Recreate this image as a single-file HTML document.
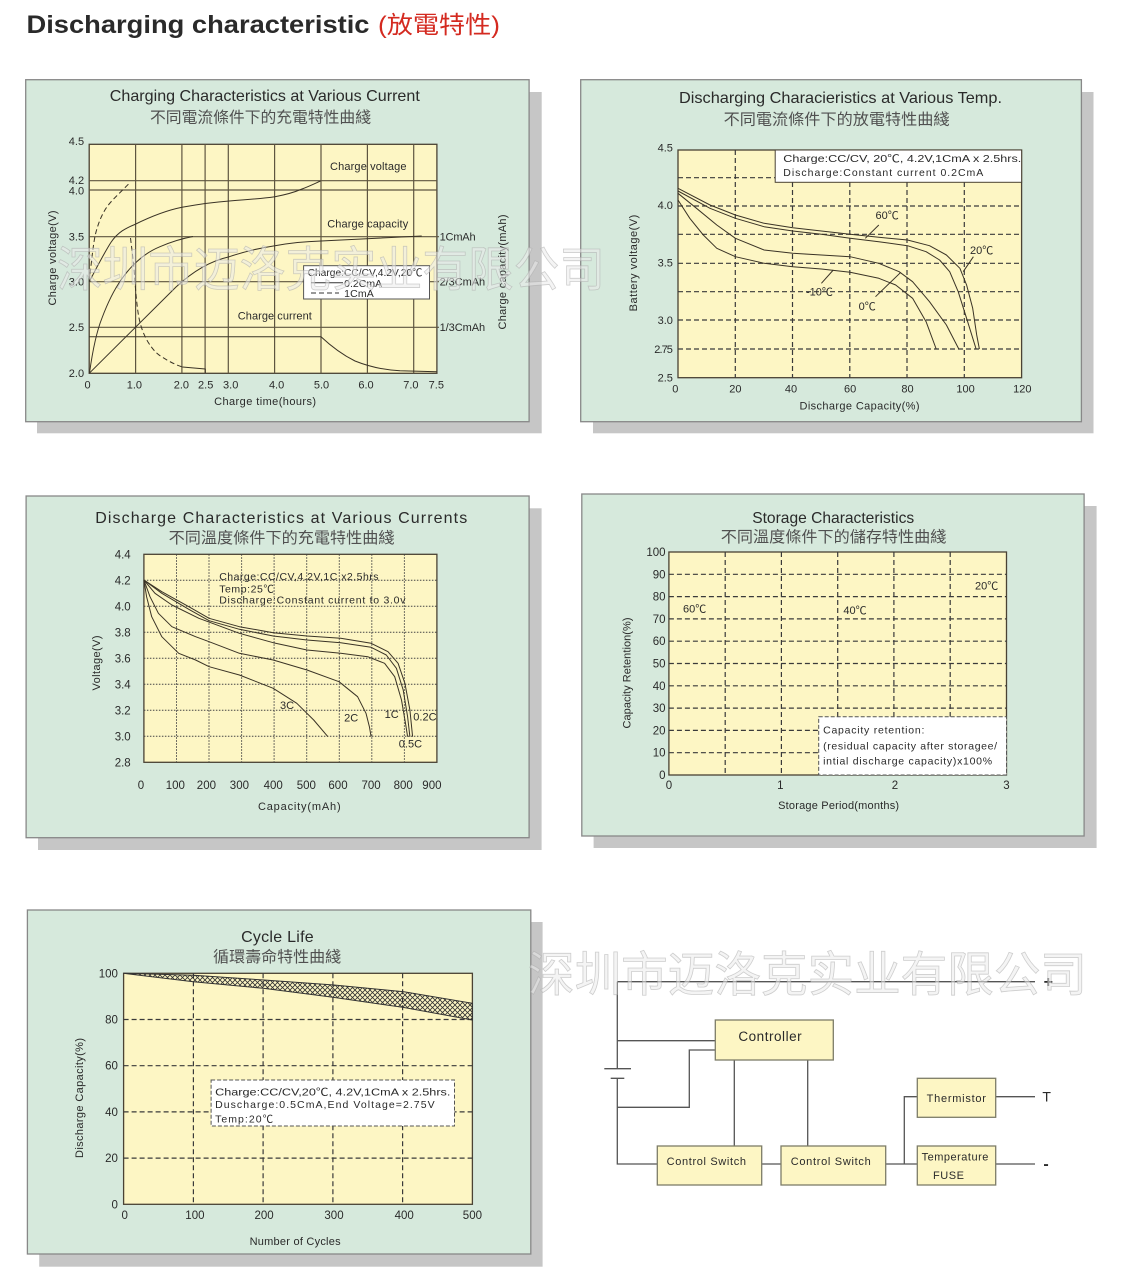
<!DOCTYPE html>
<html><head><meta charset="utf-8">
<style>
html,body{margin:0;padding:0;background:#fff;}
svg{display:block;}
text{font-family:"Liberation Sans","Noto Sans CJK TC",sans-serif;fill:#2a2a2a;}
.t{font-size:11px;}
.cn{fill:#505050;font-family:"Liberation Sans","Noto Sans CJK TC",sans-serif;}
.cv{fill:none;stroke:#3a3326;stroke-width:1;stroke-linejoin:round;}
.wm{font-family:"Liberation Sans","Noto Sans CJK SC",sans-serif;fill:rgba(235,235,235,0.55);stroke:rgba(170,170,170,0.55);stroke-width:0.8;}
</style></head><body>
<svg width="1138" height="1275" viewBox="0 0 1138 1275" xmlns="http://www.w3.org/2000/svg">
<defs>
<pattern id="hatch" width="5" height="5" patternUnits="userSpaceOnUse"><path d="M-1,-1 L6,6 M6,-1 L-1,6" stroke="#333" stroke-width="0.8"/></pattern>
</defs>

<!-- Header -->
<text x="26.5" y="33" font-size="25" font-weight="bold" textLength="343" lengthAdjust="spacingAndGlyphs" fill="#1a1a1a">Discharging characteristic</text>
<text x="378" y="33" font-size="24" textLength="122" lengthAdjust="spacingAndGlyphs" fill="#d42a20" style="fill:#d42a20">(放電特性)</text>

<!-- ================= PANEL 1 ================= -->
<rect x="37" y="92" width="504.7" height="341.3" fill="#c6c6c6"/>
<rect x="25.7" y="79.7" width="503.4" height="342" fill="#d6e9dc" stroke="#888" stroke-width="1.3"/>
<text x="264.8" y="101" font-size="16" text-anchor="middle" textLength="310" lengthAdjust="spacingAndGlyphs">Charging Characteristics at Various Current</text>
<text class="cn" x="260.5" y="122.5" font-size="15.5" text-anchor="middle" textLength="221" lengthAdjust="spacingAndGlyphs">不同電流條件下的充電特性曲綫</text>
<rect x="89.2" y="144.3" width="347.7" height="229" fill="#fdf6c4" stroke="#4a4234" stroke-width="1.3"/>
<path d="M135.6,144.3V373.3 M181.9,144.3V373.3 M205.1,144.3V373.3 M228.3,144.3V373.3 M274.6,144.3V373.3 M321,144.3V373.3 M367.4,144.3V373.3 M413.7,144.3V373.3 M89.2,180.7H436.9 M89.2,190H436.9 M89.2,236.7H439 M89.2,281.7H439 M89.2,327.3H439" stroke="#5e5540" stroke-width="1.2" fill="none"/>
<!-- curves -->
<path class="cv" stroke-dasharray="5,3" d="M89.2,281.7 C91.5,262 93,245 95.5,234 C98.5,222 103,211 110,203 C116,196 123,190 129.5,183"/>
<path class="cv" d="M89.2,281.7 C95,271 104,253 111.2,242 C118,232 126,228 134.8,224.5 C150,217 166,210.5 182,207.3 C200,204 215,202 229.3,201 C250,199.5 262,198.5 274.9,196.7 C287,194.5 295,192 302,189 C310,186 316,183 320.5,181"/>
<path class="cv" d="M89.5,373 C92,355 96,333 102,318 C108,302 114,290 121,280 C128,270 133,265 137,261.5 C145,254 152,250 160,246.7 C172,241.5 182,238.5 193,236.5"/>
<path class="cv" d="M89.2,373.3 L176,287 C192,272 210,261 229.3,256.7 C246,251 260,248 274.9,245.7 C290,243 305,241.5 321,241 L421.7,236"/>
<path class="cv" stroke-dasharray="5,3" d="M130.5,238 C132,250 133.5,262 134.5,275 C135.5,290 137,308 139,318 C141,328 144,335 148,342 C153,350 157,354 162,357 C170,362 176,365 182.5,367"/>
<path class="cv" d="M182.5,367 L205.3,369 L205.3,373"/>
<path class="cv" d="M89.2,336.7 L321,336.7 C332,347 343,355 355,361 C370,367 385,370 400,370.8 L436.9,371.7"/>
<!-- labels -->
<text class="t" x="330" y="170" textLength="76.5">Charge voltage</text>
<text class="t" x="327.2" y="227.3" textLength="81">Charge capacity</text>
<text class="t" x="237.8" y="319.7" textLength="74">Charge current</text>
<text class="t" x="439.6" y="240.5" textLength="36">1CmAh</text>
<text class="t" x="439.6" y="285.7" textLength="45.5">2/3CmAh</text>
<text class="t" x="439.6" y="331" textLength="45.5">1/3CmAh</text>
<!-- legend -->
<rect x="303.6" y="265.7" width="125.9" height="33.3" fill="#fff" stroke="#555" stroke-width="1"/>
<text x="307.6" y="276" font-size="10.5" textLength="114.8" lengthAdjust="spacingAndGlyphs">Charge:CC/CV,4.2V,20℃</text>
<path d="M311,282.7H343" stroke="#333" stroke-width="1"/>
<text x="344.1" y="287" font-size="10.5" textLength="38">0.2CmA</text>
<path d="M311,293H339" stroke="#333" stroke-width="1" stroke-dasharray="5,3"/>
<text x="344.1" y="297" font-size="10.5" textLength="29.7">1CmA</text>
<!-- ticks -->
<g class="t" text-anchor="end">
<text x="84.1" y="145">4.5</text><text x="84.1" y="184">4.2</text><text x="84.1" y="194.5">4.0</text>
<text x="84.1" y="240.7">3.5</text><text x="84.1" y="285.7">3.0</text><text x="84.1" y="331">2.5</text><text x="84.1" y="377">2.0</text>
</g>
<g class="t" text-anchor="middle">
<text x="87.5" y="388.3">0</text><text x="134.4" y="388.3">1.0</text><text x="181.4" y="388.3">2.0</text><text x="205.7" y="388.3">2.5</text>
<text x="230.7" y="388.3">3.0</text><text x="276.6" y="388.3">4.0</text><text x="321.5" y="388.3">5.0</text><text x="366" y="388.3">6.0</text>
<text x="410.9" y="388.3">7.0</text><text x="436.3" y="388.3">7.5</text>
<text x="265.1" y="405" textLength="102">Charge time(hours)</text>
</g>
<text class="t" transform="translate(56,258) rotate(-90)" text-anchor="middle" textLength="95">Charge voltage(V)</text>
<text class="t" transform="translate(506,272) rotate(-90)" text-anchor="middle" textLength="115">Charge capacity(mAh)</text>

<!-- ================= PANEL 2 ================= -->
<rect x="593" y="92" width="500.5" height="341.3" fill="#c6c6c6"/>
<rect x="580.7" y="79.7" width="500.7" height="342" fill="#d6e9dc" stroke="#888" stroke-width="1.3"/>
<text x="840.5" y="103" font-size="16" text-anchor="middle" textLength="323" lengthAdjust="spacingAndGlyphs">Discharging Characieristics at Various Temp.</text>
<text class="cn" x="836.6" y="124.5" font-size="15.5" text-anchor="middle" textLength="226" lengthAdjust="spacingAndGlyphs">不同電流條件下的放電特性曲綫</text>
<rect x="678" y="150" width="343.6" height="227.7" fill="#fdf6c4" stroke="#4a4234" stroke-width="1.3"/>
<path d="M735.3,150V377.7 M792.5,150V377.7 M849.8,150V377.7 M907,150V377.7 M964.3,150V377.7 M678,177.7H1021.6 M678,206H1021.6 M678,234.3H1021.6 M678,263.3H1021.6 M678,291.7H1021.6 M678,320H1021.6 M678,349H1021.6" stroke="#3a3a3a" stroke-width="1.2" stroke-dasharray="5,3" fill="none"/>
<rect x="775.2" y="150" width="246.4" height="32.3" fill="#fff" stroke="#4a4234" stroke-width="1"/>
<text x="783.3" y="162" font-size="10.5" textLength="238" lengthAdjust="spacingAndGlyphs">Charge:CC/CV, 20℃,   4.2V,1CmA x 2.5hrs.</text>
<text x="783.3" y="176" font-size="10.5" textLength="200">Discharge:Constant current 0.2CmA</text>
<polyline class="cv" points="678,188.3 710,205 735.4,215 764.1,223.3 792.8,227.7 821.4,231 850.1,234.3 878.8,237.3 907.5,240 929.5,245.7 946.4,255 959.9,268.3 966.6,285 972.7,308.3 976.7,335 979.4,349"/>
<polyline class="cv" points="678,191 710,208.3 735.4,218.3 764.1,226.7 792.8,231 821.4,234.3 850.1,238.3 878.8,241.7 907.5,245.7 926.1,251.7 939.6,260 949.7,271.7 958.2,291.7 966.6,318.3 976.1,349"/>
<polyline class="cv" points="678,193.3 696.5,208.3 716.8,225 735.4,238.3 764.1,250 792.8,253.3 821.4,255 850.1,256.7 878.8,263.3 899.1,271.7 912.6,281.7 929.5,301.7 946.4,325 958.8,349"/>
<polyline class="cv" points="678,200 689.8,218.3 703.3,235 716.8,248.3 735.4,256.7 764.1,263.3 792.8,266.7 821.4,269 850.1,272.3 878.8,278.3 895.7,285 912.6,298.3 926.1,321.7 936.2,349"/>
<path d="M878.8,225L865.3,238.3 M973.4,256.7L963.2,271.7 M821.4,283.3L833.3,270 M875.5,296.7L900.8,272.3" stroke="#3a3326" stroke-width="1" fill="none"/>
<text class="t" x="875.5" y="219">60℃</text>
<text class="t" x="970" y="254">20℃</text>
<text class="t" x="806" y="295.7">-10℃</text>
<text class="t" x="858.6" y="310">0℃</text>
<g class="t" text-anchor="end">
<text x="672.9" y="151.7">4.5</text><text x="672.9" y="209">4.0</text><text x="672.9" y="266.3">3.5</text>
<text x="672.9" y="324">3.0</text><text x="672.9" y="353" textLength="18.6">2.75</text><text x="672.9" y="381.7">2.5</text>
</g>
<g class="t" text-anchor="middle">
<text x="675.3" y="392.3">0</text><text x="735.4" y="392.3">20</text><text x="791" y="392.3">40</text><text x="850.1" y="392.3">60</text>
<text x="907.5" y="392.3">80</text><text x="965.6" y="392.3">100</text><text x="1022.3" y="392.3">120</text>
<text x="859.5" y="409.5" textLength="120">Discharge Capacity(%)</text>
</g>
<text class="t" transform="translate(637,263) rotate(-90)" text-anchor="middle" textLength="96.7">Battery voltage(V)</text>

<!-- ================= PANEL 3 ================= -->
<rect x="38" y="508.3" width="503.6" height="341.7" fill="#c6c6c6"/>
<rect x="26.1" y="496" width="503" height="341.7" fill="#d6e9dc" stroke="#888" stroke-width="1.3"/>
<text x="281.2" y="523" font-size="16" text-anchor="middle" textLength="372">Discharge Characteristics at Various Currents</text>
<text class="cn" x="281.6" y="543" font-size="15.5" text-anchor="middle" textLength="226" lengthAdjust="spacingAndGlyphs">不同溫度條件下的充電特性曲綫</text>
<rect x="143.9" y="554.3" width="293" height="208" fill="#fdf6c4" stroke="#4a4234" stroke-width="1.3"/>
<path d="M176.5,554.3V762.3 M209,554.3V762.3 M241.6,554.3V762.3 M274.1,554.3V762.3 M306.7,554.3V762.3 M339.3,554.3V762.3 M371.8,554.3V762.3 M404.4,554.3V762.3 M143.9,580.3H436.9 M143.9,606.3H436.9 M143.9,632.3H436.9 M143.9,658.3H436.9 M143.9,684.3H436.9 M143.9,710.3H436.9 M143.9,736.3H436.9" stroke="#444" stroke-width="1" stroke-dasharray="1.5,1.5" fill="none"/>
<text x="219.2" y="580" font-size="10.5" textLength="159.3">Charge:CC/CV,4.2V,1C x2.5hrs</text>
<text x="219.2" y="592.3" font-size="10.5" textLength="54.7">Temp:25℃</text>
<text x="219.2" y="603.3" font-size="10.5" textLength="186.3">Discharge:Constant current to 3.0v</text>
<polyline class="cv" points="143.9,580 161.8,591.7 188.8,606.7 209.1,618.3 239.4,626.7 273.2,632.7 307,636 340.7,638.3 371.1,643.3 388,651.7 398.1,663.3 404.9,683.3 409.9,710 412.6,736.7"/>
<polyline class="cv" points="143.9,580 161.8,593.3 188.8,609.3 209.1,620.7 239.4,629.3 273.2,636 307,640 340.7,642.7 371.1,647.3 386.3,655 396.4,668.3 403.2,690 407.6,716.7 409.9,736.7"/>
<polyline class="cv" points="143.9,580 155,593.3 171.9,605 198.9,618.3 239.4,633.3 273.2,642.7 307,650 340.7,653.3 367.7,656.7 384.6,663.3 394.7,676.7 401.5,700 405.5,723.3 407.6,736.7"/>
<polyline class="cv" points="143.9,580 150,596.7 158.4,613.3 171.9,626.7 195.6,636.7 209.1,641.7 239.4,653.3 273.2,660 307,670 339,681.7 357.6,696.7 366,713.3 369.4,726.7 371.1,736.7"/>
<polyline class="cv" points="143.9,580 146.6,596.7 151.7,616.7 161.8,636.7 178.7,653.3 195.6,660 209.1,666.7 239.4,675 273.2,688.3 296.8,703.3 313.7,720 327.9,736.7"/>
<text class="t" x="280" y="709">3C</text>
<text class="t" x="344.1" y="721.7">2C</text>
<text class="t" x="384.6" y="718">1C</text>
<text class="t" x="413.3" y="720.7">0.2C</text>
<text class="t" x="398.8" y="747.3">0.5C</text>
<g class="t" text-anchor="end" style="font-size:11.5px">
<text x="130.7" y="558.3">4.4</text><text x="130.7" y="584.3">4.2</text><text x="130.7" y="610.3">4.0</text>
<text x="130.7" y="636.3">3.8</text><text x="130.7" y="662.3">3.6</text><text x="130.7" y="688.3">3.4</text>
<text x="130.7" y="714.3">3.2</text><text x="130.7" y="740.3">3.0</text><text x="130.7" y="766.3">2.8</text>
</g>
<g class="t" text-anchor="middle" style="font-size:11.5px">
<text x="140.9" y="789">0</text><text x="175.3" y="789">100</text><text x="206.4" y="789">200</text><text x="239.4" y="789">300</text>
<text x="273.2" y="789">400</text><text x="306.3" y="789">500</text><text x="338" y="789">600</text><text x="371.1" y="789">700</text>
<text x="403.2" y="789">800</text><text x="431.9" y="789">900</text>
</g>
<text class="t" x="299.3" y="810" text-anchor="middle" textLength="82.7">Capacity(mAh)</text>
<text class="t" transform="translate(100,663) rotate(-90)" text-anchor="middle" textLength="55">Voltage(V)</text>

<!-- ================= PANEL 4 ================= -->
<rect x="593.6" y="506" width="503" height="342" fill="#c6c6c6"/>
<rect x="581.8" y="494" width="502.3" height="342" fill="#d6e9dc" stroke="#888" stroke-width="1.3"/>
<text x="833.2" y="523" font-size="16" text-anchor="middle" textLength="162" lengthAdjust="spacingAndGlyphs">Storage Characteristics</text>
<text class="cn" x="833.6" y="542" font-size="15.5" text-anchor="middle" textLength="225.6" lengthAdjust="spacingAndGlyphs">不同溫度條件下的儲存特性曲綫</text>
<rect x="668.9" y="552" width="337.6" height="223" fill="#fdf6c4" stroke="#4a4234" stroke-width="1.3"/>
<path d="M725.2,552V775 M781.4,552V775 M837.7,552V775 M893.9,552V775 M950.2,552V775 M668.9,574.3H1006.5 M668.9,596.6H1006.5 M668.9,618.9H1006.5 M668.9,641.2H1006.5 M668.9,663.5H1006.5 M668.9,685.8H1006.5 M668.9,708.1H1006.5 M668.9,730.4H1006.5 M668.9,752.7H1006.5" stroke="#3a3a3a" stroke-width="1.2" stroke-dasharray="5,3" fill="none"/>
<rect x="818.7" y="716.7" width="187.8" height="58.3" fill="#fff" stroke="#555" stroke-width="1" stroke-dasharray="4,2"/>
<text x="823.1" y="733.3" font-size="10.5" textLength="101.3">Capacity retention:</text>
<text x="823.1" y="749.3" font-size="10.5" textLength="174">(residual capacity after storagee/</text>
<text x="823.1" y="764.7" font-size="10.5" textLength="169">intial discharge capacity)x100%</text>
<text class="t" x="683" y="612.3">60℃</text>
<text class="t" x="843.4" y="614">40℃</text>
<text class="t" x="975" y="589.7">20℃</text>
<g class="t" text-anchor="end" style="font-size:11.5px">
<text x="665.5" y="556">100</text><text x="665.5" y="578.3">90</text><text x="665.5" y="600.6">80</text>
<text x="665.5" y="622.9">70</text><text x="665.5" y="645.2">60</text><text x="665.5" y="667.5">50</text>
<text x="665.5" y="689.8">40</text><text x="665.5" y="712.1">30</text><text x="665.5" y="734.4">20</text>
<text x="665.5" y="756.7">10</text><text x="665.5" y="779">0</text>
</g>
<g class="t" text-anchor="middle" style="font-size:11.5px">
<text x="668.9" y="789">0</text><text x="780.3" y="789">1</text><text x="895" y="789">2</text><text x="1006.5" y="789">3</text>
</g>
<text class="t" x="838.6" y="809" text-anchor="middle" textLength="121">Storage Period(months)</text>
<text class="t" transform="translate(630.3,673) rotate(-90)" text-anchor="middle" textLength="111">Capacity Retention(%)</text>

<!-- ================= PANEL 5 ================= -->
<rect x="39.2" y="922" width="503.4" height="344.7" fill="#c6c6c6"/>
<rect x="27.4" y="910" width="503.4" height="344" fill="#d6e9dc" stroke="#888" stroke-width="1.3"/>
<text x="277.4" y="942" font-size="16" text-anchor="middle" textLength="72.6">Cycle Life</text>
<text class="cn" x="277.2" y="962" font-size="15.5" text-anchor="middle" textLength="128" lengthAdjust="spacingAndGlyphs">循環壽命特性曲綫</text>
<rect x="123.6" y="973.3" width="348.8" height="231" fill="#fdf6c4" stroke="#4a4234" stroke-width="1.3"/>
<path d="M193.4,973.3V1204.3 M263.1,973.3V1204.3 M332.9,973.3V1204.3 M402.6,973.3V1204.3 M123.6,1019.5H472.4 M123.6,1065.7H472.4 M123.6,1111.9H472.4 M123.6,1158.1H472.4" stroke="#3a3a3a" stroke-width="1.2" stroke-dasharray="5,3" fill="none"/>
<path d="M123.6,973.3 L193.9,975.3 L264.1,980 L334,985 L403.9,991.7 L472.4,1003.3 L472.4,1020 L402.6,1007.3 L332.9,997.3 L263.1,988.3 L193.4,981.7 Z" fill="url(#hatch)" stroke="#333" stroke-width="1"/>
<rect x="211.1" y="1080" width="243.4" height="46" fill="#fff" stroke="#555" stroke-width="1" stroke-dasharray="4,2"/>
<text x="215.1" y="1095.5" font-size="10.5" textLength="235.3" lengthAdjust="spacingAndGlyphs">Charge:CC/CV,20℃,  4.2V,1CmA x 2.5hrs.</text>
<text x="215.1" y="1108" font-size="10.5" textLength="219.5">Duscharge:0.5CmA,End Voltage=2.75V</text>
<text x="215.1" y="1122.3" font-size="10.5" textLength="58">Temp:20℃</text>
<g class="t" text-anchor="end" style="font-size:11.5px">
<text x="117.9" y="977.3">100</text><text x="117.9" y="1023.5">80</text><text x="117.9" y="1069.7">60</text>
<text x="117.9" y="1115.9">40</text><text x="117.9" y="1162.1">20</text><text x="117.9" y="1208.3">0</text>
</g>
<g class="t" text-anchor="middle" style="font-size:11.5px">
<text x="124.7" y="1219">0</text><text x="194.9" y="1219">100</text><text x="264.1" y="1219">200</text>
<text x="334" y="1219">300</text><text x="404.2" y="1219">400</text><text x="472.4" y="1219">500</text>
</g>
<text class="t" x="295.1" y="1245" text-anchor="middle" textLength="91">Number of Cycles</text>
<text class="t" transform="translate(83.1,1098) rotate(-90)" text-anchor="middle" textLength="120">Discharge Capacity(%)</text>

<!-- ================= CIRCUIT ================= -->
<g stroke="#555" stroke-width="1.3" fill="none">
<path d="M617.3,981.7H1035"/>
<path d="M617.3,981.7V1068.7 M617.3,1078.3V1164H657.3"/>
<path d="M604.3,1068.7H631 M610.7,1078.3H624.3"/>
<path d="M617.3,1040.7H715.3"/>
<path d="M617.3,1107.3H689.3V1050H715.3"/>
<path d="M734.3,1060V1146 M807.7,1060V1146"/>
<path d="M761.7,1164H781 M885.7,1164H917.3 M904.3,1164V1096.7H917.3"/>
<path d="M995.7,1096.7H1035 M995.7,1164H1035"/>
</g>
<g fill="#fdf6c4" stroke="#7d7d68" stroke-width="1.3">
<rect x="715.3" y="1020" width="118" height="40"/>
<rect x="657.3" y="1146" width="104.4" height="39"/>
<rect x="781" y="1146" width="104.7" height="39"/>
<rect x="917.3" y="1078.3" width="78.4" height="39"/>
<rect x="917.3" y="1146" width="78.4" height="39"/>
</g>
<text x="770" y="1041" font-size="13.5" text-anchor="middle" textLength="63.3">Controller</text>
<text x="706.3" y="1165" font-size="11" text-anchor="middle" textLength="79.3">Control Switch</text>
<text x="830.7" y="1165" font-size="11" text-anchor="middle" textLength="80">Control Switch</text>
<text x="956.3" y="1102" font-size="11" text-anchor="middle" textLength="59.3">Thermistor</text>
<text x="955" y="1160.5" font-size="11" text-anchor="middle" textLength="66.7">Temperature</text>
<text x="948.5" y="1179" font-size="11" text-anchor="middle" textLength="31">FUSE</text>
<text x="1048.3" y="987" font-size="16" font-weight="bold" text-anchor="middle">+</text>
<text x="1046.7" y="1101.5" font-size="14" text-anchor="middle">T</text>
<text x="1046" y="1169" font-size="16" font-weight="bold" text-anchor="middle">-</text>

<!-- Watermarks -->
<text class="wm" x="57" y="286" font-size="48" textLength="548" lengthAdjust="spacingAndGlyphs">深圳市迈洛克实业有限公司</text>
<text class="wm" x="528" y="991" font-size="48" textLength="559" lengthAdjust="spacingAndGlyphs">深圳市迈洛克实业有限公司</text>
</svg>
</body></html>
